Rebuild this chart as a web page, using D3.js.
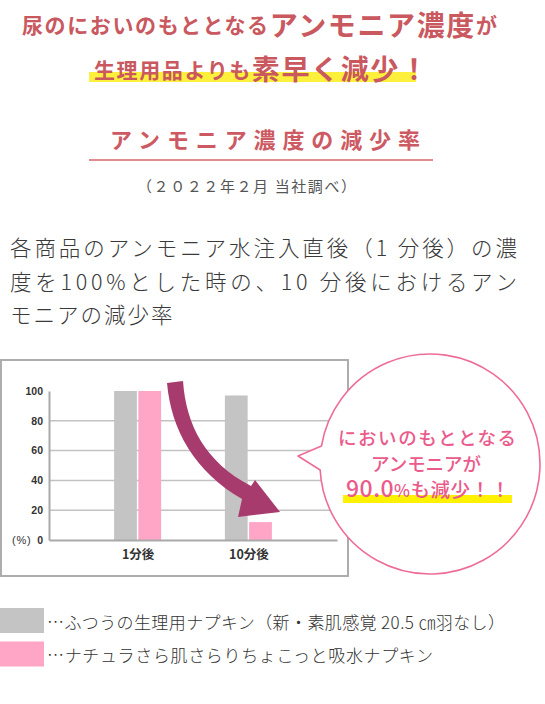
<!DOCTYPE html>
<html lang="ja">
<head>
<meta charset="utf-8">
<script src="https://cdn.jsdelivr.net/npm/d3@7"></script>
<style>
  body { margin: 0; background: #fff; }
  svg { display: block; font-family: "Noto Sans CJK JP", sans-serif; }
</style>
</head>
<body>
<div id="chart"></div>
<script>
"use strict"

// chart data
const categories = ["1分後", "10分後"]
const seriesKeys = ["regular", "natura"]
const seriesLabels = ["ふつうの生理用ナプキン（新・素肌感覚 20.5 ㎝羽なし）", "ナチュラさら肌さらりちょこっと吸水ナプキン"]
const regularValues = [100, 97]
const naturaValues = [100, 12]
const yTicks = [0, 20, 40, 60, 80, 100]
const seriesColors = ["#c4c4c4", "#ffa5c5"]

// texts
const headLine1 = ["尿のにおいのもととなる", "アンモニア濃度", "が"]
const headLine2 = ["生理用品よりも", "素早く減少！"]
const title = "アンモニア濃度の減少率"
const subtitle = "（２０２２年２月 当社調べ）"
const bodyLines = [
  "各商品のアンモニア水注入直後（1 分後）の濃",
  "度を100%とした時の、10 分後におけるアン",
  "モニアの減少率"
]
const bubbleLines = ["においのもととなる", "アンモニアが"]
const bubbleBig = ["90.0", "%", "も減少！！"]

const W = 545, H = 704
const red = "#c9585f"
const pinkText = "#ea5b8c"

const svg = d3.select("#chart").append("svg")
  .attr("width", W)
  .attr("height", H)
  .attr("viewBox", `0 0 ${W} ${H}`)

// ---- header ----
svg.append("rect")
  .attr("x", 89).attr("y", 72).attr("width", 327).attr("height", 10)
  .attr("fill", "#fdf03c")

const h1 = svg.append("text")
  .attr("x", 22).attr("y", 33)
  .attr("textLength", 475)
  .attr("fill", red)
  .attr("font-weight", 700)
h1.append("tspan").attr("font-size", 21).text(headLine1[0])
h1.append("tspan").attr("font-size", 28).attr("dy", 3).text(headLine1[1])
h1.append("tspan").attr("font-size", 21).attr("dy", -3).text(headLine1[2])

const h2 = svg.append("text")
  .attr("x", 94).attr("y", 77.5)
  .attr("textLength", 334)
  .attr("fill", red)
  .attr("font-weight", 700)
h2.append("tspan").attr("font-size", 21).text(headLine2[0])
h2.append("tspan").attr("font-size", 28).attr("dy", 2).text(headLine2[1])

svg.append("text")
  .attr("x", 110).attr("y", 138)
  .attr("textLength", 310)
  .attr("dominant-baseline", "central")
  .attr("font-size", 22)
  .attr("font-weight", 700)
  .attr("fill", "#cd5a63")
  .text(title)

svg.append("line")
  .attr("x1", 89).attr("x2", 433).attr("y1", 160).attr("y2", 160)
  .attr("stroke", "#d8656d").attr("stroke-width", 1.5)

svg.append("text")
  .attr("x", 137).attr("y", 185)
  .attr("textLength", 219)
  .attr("dominant-baseline", "central")
  .attr("font-size", 15)
  .attr("fill", "#555")
  .text(subtitle)

// ---- body text ----
const bodyY = [246, 280, 313]
bodyLines.forEach((t, i) => {
  const el = svg.append("text")
    .attr("x", 10).attr("y", bodyY[i])
    .attr("dominant-baseline", "central")
    .attr("font-size", 21.5)
    .attr("font-weight", 300)
    .attr("fill", "#3a3a3a")
    .text(t)
  if (i < 2) el.attr("textLength", 507)
  else el.attr("letter-spacing", 2)
})

// ---- chart ----
svg.append("rect")
  .attr("x", 1).attr("y", 360).attr("width", 347).attr("height", 216)
  .attr("fill", "none").attr("stroke", "#adadad").attr("stroke-width", 2)

const y = d3.scaleLinear().domain([0, 100]).range([540, 391])
const x = d3.scalePoint().domain(categories).range([49, 337]).padding(0.8)
const xs = d3.scaleBand().domain(seriesKeys).range([-23.5, 23.5]).paddingInner(0.06)
const color = d3.scaleOrdinal().domain(seriesKeys).range(seriesColors)

const grid = svg.append("g")
grid.selectAll("line")
  .data(yTicks.filter(t => t > 0 && t < 100))
  .enter().append("line")
  .attr("x1", 49).attr("x2", 337)
  .attr("y1", d => y(d)).attr("y2", d => y(d))
  .attr("stroke", "#c2c2c2").attr("stroke-width", 1.5)

const rows = categories.map((c, i) => ({cat: c, values: [regularValues[i], naturaValues[i]]}))

svg.append("g")
  .selectAll("g")
  .data(rows)
  .enter().append("g")
  .attr("transform", d => `translate(${x(d.cat)} 0)`)
  .selectAll("rect")
  .data(d => d.values.map((v, j) => ({key: seriesKeys[j], value: v})))
  .enter().append("rect")
  .attr("x", d => xs(d.key))
  .attr("width", xs.bandwidth())
  .attr("y", d => y(d.value))
  .attr("height", d => y(0) - y(d.value))
  .attr("fill", d => color(d.key))

const yAxis = svg.append("g")
  .attr("transform", "translate(49 0)")
  .call(d3.axisLeft(y).tickValues(yTicks).tickSize(0).tickSizeOuter(0).tickPadding(6))
yAxis.select(".domain").attr("stroke", "#a9a9a9").attr("stroke-width", 2)
yAxis.selectAll("text")
  .attr("font-family", "'Liberation Sans Narrow', 'Liberation Sans', sans-serif")
  .attr("font-weight", 700)
  .attr("font-size", 10.5)
  .attr("fill", "#333")

const xAxis = svg.append("g")
  .attr("transform", "translate(0 540)")
  .call(d3.axisBottom(x).tickSize(0).tickSizeOuter(0).tickPadding(10))
xAxis.select(".domain").attr("stroke", "#a9a9a9").attr("stroke-width", 2)
xAxis.selectAll("text")
  .attr("font-family", "'Noto Sans CJK JP', sans-serif")
  .attr("font-weight", 700)
  .attr("font-size", 12.5)
  .attr("fill", "#333")

svg.append("text")
  .attr("x", 12).attr("y", y(0))
  .attr("dominant-baseline", "central")
  .attr("font-family", "'Liberation Sans Narrow', 'Liberation Sans', sans-serif")
  .attr("font-size", 11)
  .attr("letter-spacing", 0.8)
  .attr("fill", "#333")
  .text("(%)")

// curved arrow, anchored on the first category top
const ax = x(categories[0]), ay = y(100)
const ap = d3.path()
ap.moveTo(ax + 29.4, ay - 8)
ap.bezierCurveTo(ax + 33.4, ay + 39, ax + 57.4, ay + 81, ax + 104.4, ay + 108)
ap.lineTo(ax + 100.4, ay + 126)
ap.lineTo(ax + 142.4, ay + 121)
ap.lineTo(ax + 117.4, ay + 89)
ap.lineTo(ax + 113.4, ay + 95)
ap.bezierCurveTo(ax + 67.4, ay + 71, ax + 48.4, ay + 34, ax + 45.4, ay - 10)
ap.closePath()
svg.append("path").attr("d", ap.toString()).attr("fill", "#a83b6d")

// ---- speech bubble ----
const cx = 430, cy = 464, r = 110
const tu = Math.PI + Math.asin(18 / r), tl = Math.PI - Math.asin(6 / r)
const bubble = `M${cx + r * Math.cos(tu)},${cy + r * Math.sin(tu)}` +
  `A${r},${r} 0 1 1 ${cx + r * Math.cos(tl)},${cy + r * Math.sin(tl)}` +
  `L298,456Z`
svg.append("path")
  .attr("d", bubble)
  .attr("fill", "#fff")
  .attr("stroke", "#ee6d98")
  .attr("stroke-width", 1.6)
  .attr("stroke-linejoin", "round")

svg.append("rect")
  .attr("x", 343).attr("y", 495).attr("width", 169).attr("height", 8)
  .attr("fill", "#fff200")

const bubbleX = [338, 371], bubbleY = [437, 463], bubbleW = [178, 110]
bubbleLines.forEach((t, i) => {
  svg.append("text")
    .attr("x", bubbleX[i]).attr("y", bubbleY[i])
    .attr("textLength", bubbleW[i])
    .attr("dominant-baseline", "central")
    .attr("font-size", 18.5)
    .attr("font-weight", 500)
    .attr("fill", pinkText)
    .text(t)
})
const bb = svg.append("text")
  .attr("x", 346).attr("y", 497)
  .attr("textLength", 164)
  .attr("font-weight", 500)
  .attr("fill", pinkText)
bb.append("tspan").attr("font-size", 23).text(bubbleBig[0])
bb.append("tspan").attr("font-size", 17).text(bubbleBig[1])
bb.append("tspan").attr("font-size", 19.5).text(bubbleBig[2])

// ---- legend ----
const legY = [608, 641.5], legTextY = [621, 654], legW = [458, 386]
seriesKeys.forEach((k, i) => {
  svg.append("rect")
    .attr("x", 0).attr("y", legY[i]).attr("width", 44).attr("height", 25)
    .attr("fill", color(k))
  svg.append("text")
    .attr("x", 47).attr("y", legTextY[i])
    .attr("textLength", legW[i])
    .attr("dominant-baseline", "central")
    .attr("font-size", 17)
    .attr("font-weight", 300)
    .attr("fill", "#333")
    .text("…" + seriesLabels[i])
})
</script>
</body>
</html>
